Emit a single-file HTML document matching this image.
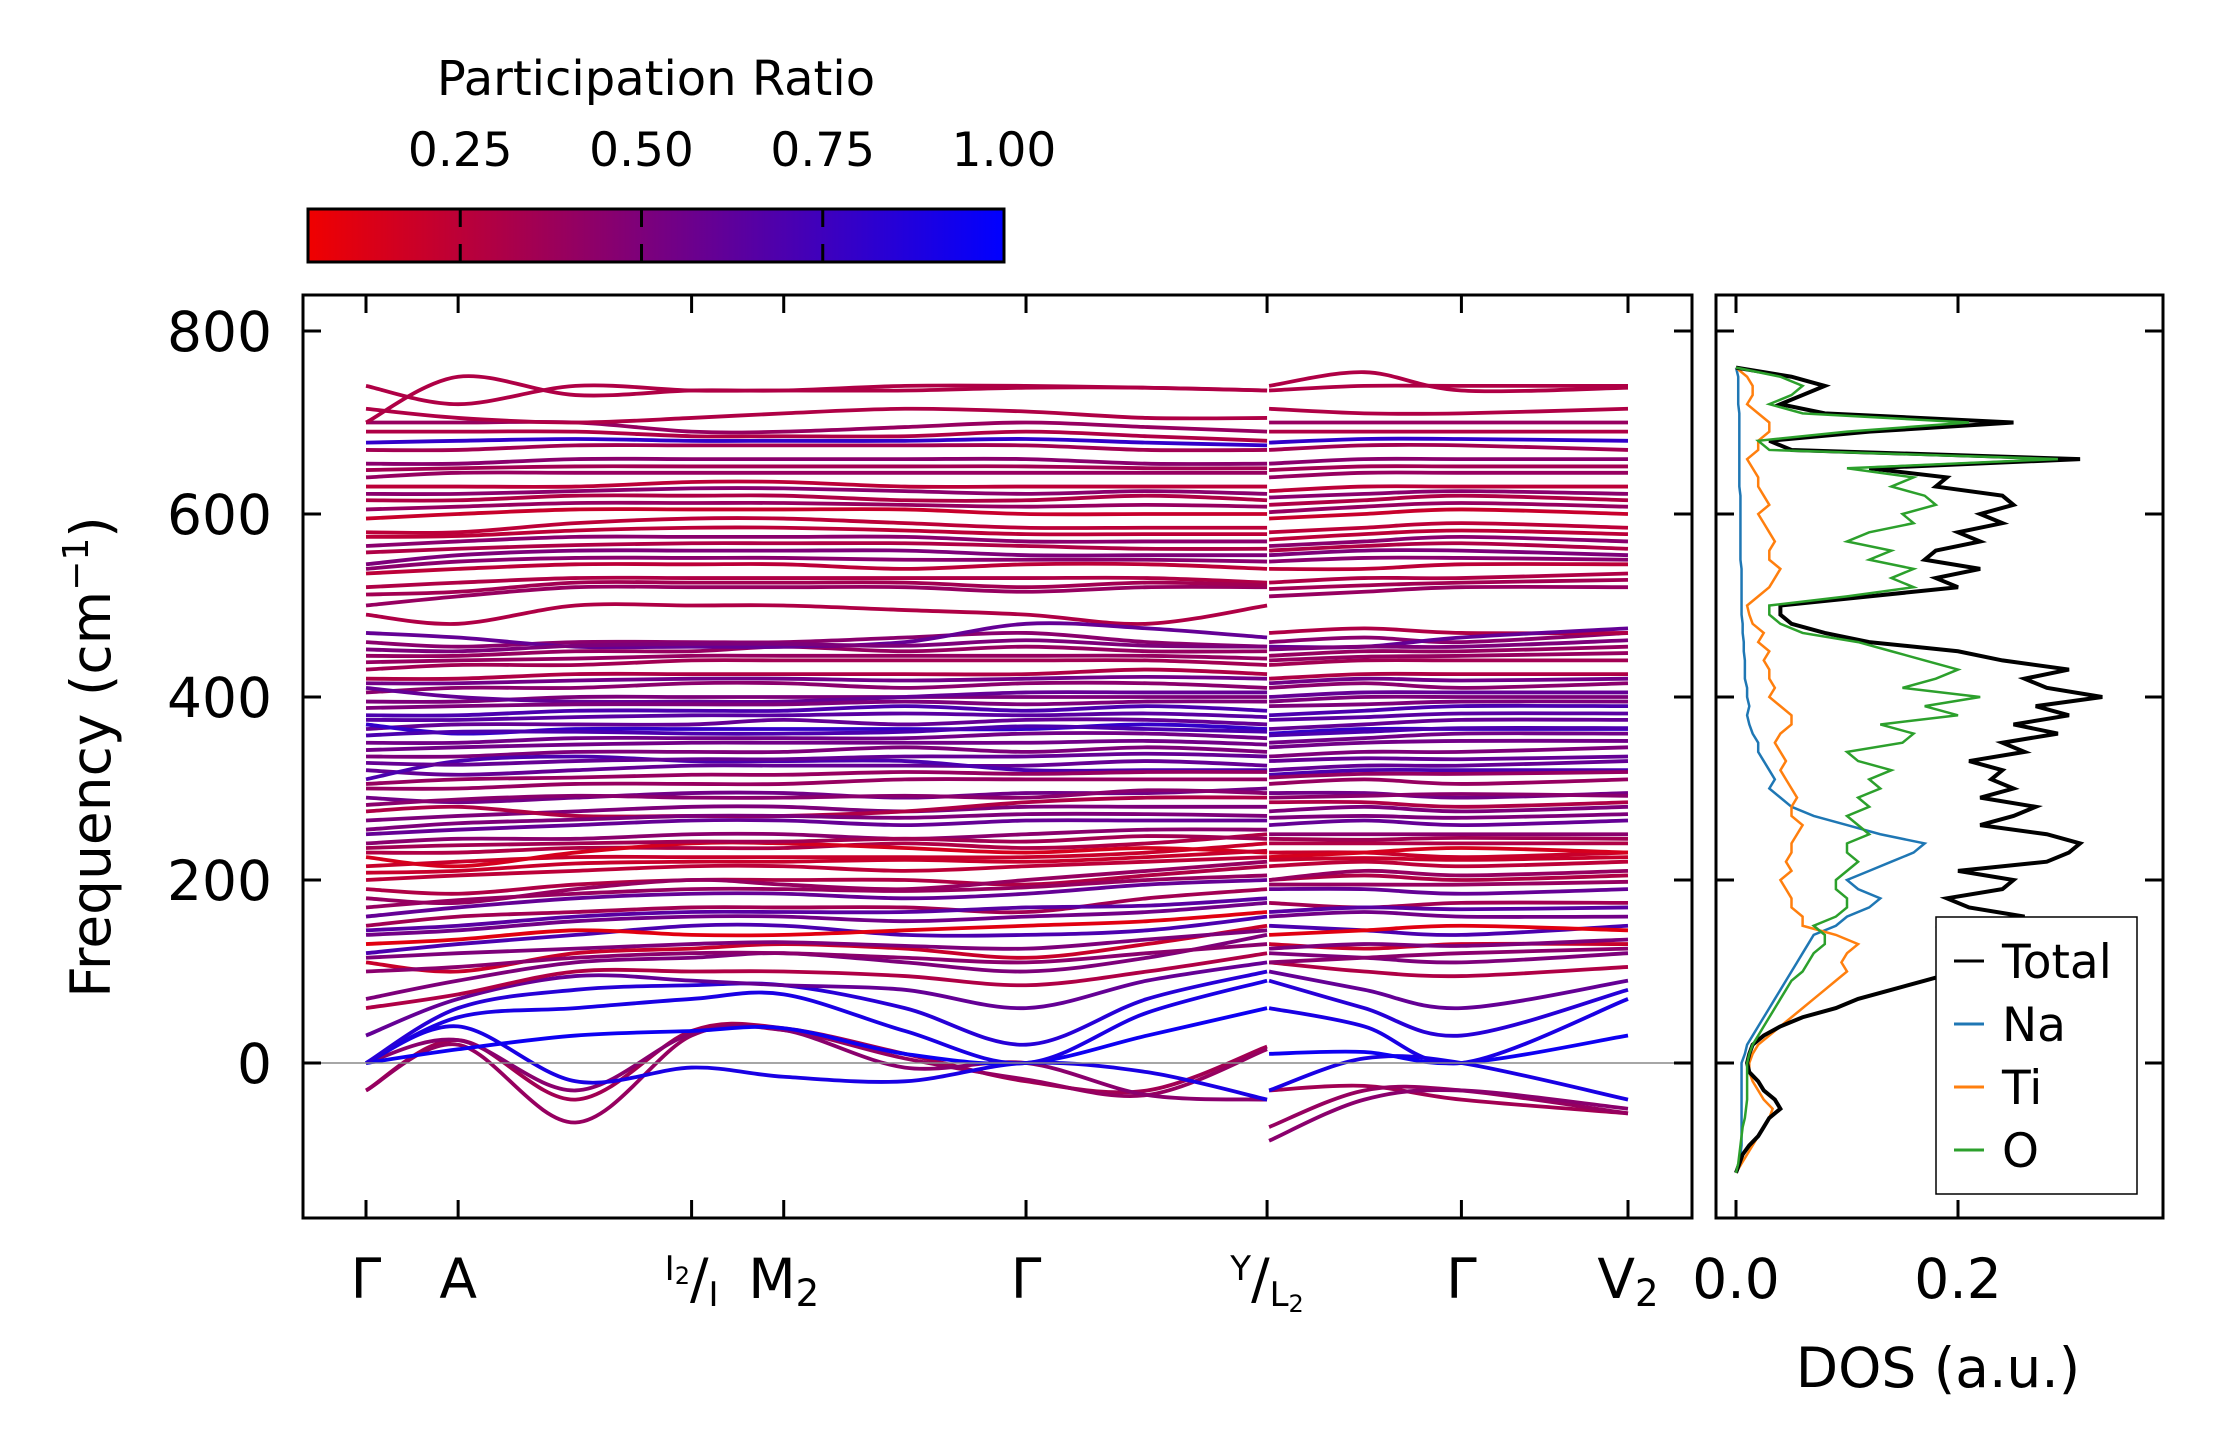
<!DOCTYPE html>
<html><head><meta charset="utf-8"><style>
html,body{margin:0;padding:0;background:#fff;}
svg{display:block;font-family:"DejaVu Sans","Liberation Sans",sans-serif;}
</style></head><body>
<svg id="fig" width="2222" height="1455" viewBox="0 0 2222 1455" xmlns="http://www.w3.org/2000/svg">
<defs>
<linearGradient id="cbg" x1="0" x2="1" y1="0" y2="0"><stop offset="0" stop-color="#f00000"/><stop offset="1" stop-color="#0000ff"/></linearGradient>
<clipPath id="mainclip"><rect x="303" y="295" width="1389" height="923"/></clipPath>
<clipPath id="dosclip"><rect x="1716" y="295" width="447" height="923"/></clipPath>
</defs>
<g id="colorbar">
<text x="656" y="95" font-size="48" text-anchor="middle">Participation Ratio</text>
<rect x="308" y="209" width="696" height="53" fill="url(#cbg)" stroke="#000" stroke-width="3"/>
</g>
<g id="bands" clip-path="url(#mainclip)"></g>
<line x1="303" x2="1692" y1="1063" y2="1063" stroke="#888" stroke-width="1.5"/>
<rect x="303" y="295" width="1389" height="923" fill="none" stroke="#000" stroke-width="3"/>
<g id="maxes"></g>
<g id="dos" clip-path="url(#dosclip)"></g>
<rect x="1716" y="295" width="447" height="923" fill="none" stroke="#000" stroke-width="3"/>
<g id="daxes"></g>
<text transform="translate(110,757) rotate(-90)" font-size="55" text-anchor="middle">Frequency (cm<tspan dy="-22" font-size="36">−1</tspan><tspan dy="22">)</tspan></text>
<text x="1938" y="1387" font-size="55" text-anchor="middle">DOS (a.u.)</text>
<g>
<rect x="1936" y="917" width="201" height="277" fill="#fff" stroke="#000" stroke-width="1.5"/>
<line x1="1954" x2="1984" y1="961" y2="961" stroke="#000" stroke-width="3"/><text x="2002" y="978" font-size="47">Total</text>
<line x1="1954" x2="1984" y1="1024" y2="1024" stroke="#1f77b4" stroke-width="3"/><text x="2002" y="1041" font-size="47">Na</text>
<line x1="1954" x2="1984" y1="1087" y2="1087" stroke="#ff7f0e" stroke-width="3"/><text x="2002" y="1104" font-size="47">Ti</text>
<line x1="1954" x2="1984" y1="1150" y2="1150" stroke="#2ca02c" stroke-width="3"/><text x="2002" y="1167" font-size="47">O</text>
</g>
</svg>
<script>
const yTicks=[0,200,400,600,800];
const cbTicks=[0.25,0.5,0.75,1.0];
const cbTickLabels=["0.25","0.50","0.75","1.00"];
const dosTicks=[0.0,0.2];
const dosTickLabels=["0.0","0.2"];
const kTicks=[0,0.073,0.258,0.331,0.523,0.714,0.868,1.0];
const kKnots=[0,0.073,0.166,0.258,0.331,0.427,0.523,0.619,0.714,0.714,0.791,0.868,1.0];
const bands=[
[-30,25,-40,35,38,10,-20,-30,18,-30,-25,-40,-55],
[-30,20,-65,30,36,5,-18,-35,15,-70,-30,-30,-55],
[0,25,-30,32,36,-5,0,-35,-40,-85,-40,-30,-50],
[0,40,-20,-5,-15,-20,0,-10,-40,-30,5,0,-40],
[0,15,30,35,38,10,0,30,60,10,12,0,30],
[0,50,60,70,75,35,0,55,90,60,40,0,70],
[0,60,80,85,85,60,20,70,100,90,60,30,80],
[30,70,95,90,85,80,60,90,110,100,80,60,90],
[60,75,100,100,100,95,85,100,120,110,100,95,105],
[70,90,110,115,120,110,100,115,140,120,115,110,120],
[110,100,120,125,130,125,115,130,150,130,125,130,130],
[120,130,140,150,150,140,140,145,160,150,145,140,150],
[140,145,155,160,160,155,160,165,175,160,165,160,160],
[150,160,165,170,170,170,165,180,190,175,170,175,175],
[160,170,180,185,185,180,185,195,200,190,190,185,190],
[190,185,195,200,200,200,195,205,215,200,205,200,205],
[200,205,210,215,215,210,215,220,225,215,220,215,220],
[215,220,225,225,225,225,225,230,240,230,230,225,230],
[230,230,235,235,235,240,235,240,250,240,240,240,240],
[240,245,245,250,250,245,250,255,255,250,250,250,250],
[250,255,260,265,265,260,265,265,265,260,265,260,265],
[265,270,275,280,280,275,280,280,280,275,280,275,280],
[290,285,290,295,295,290,295,295,300,295,295,290,295],
[300,300,305,305,305,310,310,310,310,305,310,305,310],
[320,315,320,325,325,325,325,330,325,320,325,325,330],
[335,335,340,340,340,345,340,345,340,335,340,340,345],
[350,350,355,355,355,355,360,360,355,350,355,360,360],
[365,370,370,370,375,370,375,375,370,365,370,375,375],
[380,380,385,385,385,390,385,390,385,380,385,390,390],
[395,395,400,400,400,400,400,400,400,395,400,400,400],
[405,410,410,415,415,410,415,415,410,410,415,410,415],
[420,420,425,425,425,425,425,430,425,420,425,425,425],
[430,435,435,440,440,440,440,440,435,435,440,440,440],
[445,445,450,450,455,450,455,450,450,445,450,450,455],
[460,455,460,460,460,465,470,460,455,460,465,460,470],
[490,480,500,500,500,495,490,480,500,470,475,470,470],
[500,510,520,520,520,520,515,520,520,510,515,520,520],
[520,525,530,530,530,530,530,530,525,525,530,530,535],
[535,540,545,545,545,540,545,545,540,540,540,545,545],
[545,555,560,560,560,560,555,555,555,555,560,560,555],
[565,570,575,575,575,575,570,570,570,565,570,575,570],
[580,580,590,595,595,590,585,585,585,580,585,590,585],
[595,600,605,605,605,605,600,600,600,595,600,605,600],
[615,615,620,620,620,615,615,620,615,610,615,620,615],
[630,630,630,635,635,630,630,630,630,625,630,630,630],
[640,645,645,645,645,645,645,645,645,640,645,645,645],
[655,655,660,660,660,660,660,655,655,655,660,660,660],
[670,670,675,675,675,675,675,670,670,670,675,675,670],
[690,690,690,685,685,685,690,685,680,690,690,690,690],
[700,700,700,690,690,695,700,695,690,700,700,700,700],
[715,705,700,705,710,715,712,705,705,715,710,710,715],
[740,720,740,735,735,735,738,738,735,735,740,740,740],
[700,750,730,735,735,740,740,738,735,740,755,735,738],
[225,215,230,240,240,235,230,235,230,225,230,235,230],
[180,175,190,200,195,190,200,210,220,200,210,205,210],
[130,135,145,140,140,145,150,155,165,140,145,150,145],
[100,105,115,120,120,115,110,120,130,110,115,120,125],
[275,280,270,270,270,275,285,290,290,285,285,280,285],
[310,330,335,330,330,330,320,320,320,315,320,320,320],
[370,360,365,365,365,365,365,370,365,360,365,365,365],
[410,400,395,395,395,400,405,405,405,400,405,405,405],
[470,465,455,455,455,460,480,475,465,455,455,465,475],
[115,120,125,130,132,128,125,135,145,125,130,128,135],
[145,150,160,165,165,165,170,172,180,165,170,168,170],
[170,178,185,190,190,188,192,200,205,195,195,195,198],
[208,210,218,220,220,222,220,225,232,222,224,222,225],
[235,238,240,242,242,245,242,248,245,245,244,246,245],
[255,262,266,270,270,268,272,272,270,268,270,268,272],
[282,288,292,290,290,292,290,298,295,290,292,294,292],
[305,310,312,315,315,318,316,318,318,312,316,316,318],
[328,326,330,332,332,335,335,338,335,330,333,332,335],
[342,345,348,350,350,350,350,352,348,345,350,352,352],
[358,362,362,360,360,362,368,365,362,358,362,366,366],
[375,375,378,380,380,382,380,382,378,375,378,382,382],
[388,390,392,392,392,395,392,395,395,390,392,395,395],
[415,415,418,420,420,418,420,422,420,415,420,418,420],
[438,440,442,445,445,445,445,445,442,440,444,445,448],
[452,450,456,458,458,456,462,456,455,452,455,455,462],
[512,515,525,525,525,525,520,525,522,518,522,525,528],
[540,548,552,552,552,550,550,550,548,548,552,552,550],
[558,562,566,568,568,568,565,562,562,560,565,568,562],
[575,576,582,585,585,582,578,578,578,572,578,582,578],
[605,608,612,612,612,610,608,610,608,602,608,612,608],
[622,622,625,628,628,625,622,625,622,618,622,625,622],
[648,650,652,652,652,652,652,650,650,648,652,652,652],
[678,680,682,680,680,680,682,678,675,678,682,682,680],
[25,45,55,60,62,40,10,45,80,35,28,15,55]
];
const bandRatio=[0.35,0.4,0.45,0.9,0.95,0.9,0.85,0.6,0.3,0.5,0.2,0.7,0.55,0.35,0.6,0.3,0.25,0.2,0.3,0.45,0.6,0.5,0.55,0.4,0.6,0.5,0.55,0.6,0.7,0.5,0.45,0.3,0.35,0.4,0.45,0.3,0.4,0.3,0.25,0.5,0.45,0.25,0.2,0.3,0.25,0.4,0.45,0.35,0.3,0.4,0.3,0.3,0.3,0.15,0.4,0.1,0.45,0.3,0.7,0.8,0.6,0.6,
0.5,0.65,0.4,0.2,0.35,0.5,0.45,0.4,0.6,0.55,0.7,0.65,0.5,0.55,0.4,0.5,0.35,0.45,0.3,0.25,0.4,0.45,0.35,0.8];
const dosFreq=[-120,-110,-100,-90,-80,-70,-60,-50,-40,-30,-20,-10,0,10,20,30,40,50,60,70,80,90,100,110,120,130,140,150,160,170,180,190,200,210,220,230,240,250,260,270,280,290,300,310,320,330,340,350,360,370,380,390,400,410,420,430,440,450,460,470,480,490,500,510,520,530,540,550,560,570,580,590,600,610,620,630,640,650,660,670,680,690,700,710,720,730,740,750,760];
const dosTotal=[0,0.003,0.006,0.012,0.02,0.025,0.03,0.04,0.035,0.025,0.02,0.012,0.01,0.012,0.015,0.025,0.04,0.06,0.09,0.11,0.14,0.17,0.2,0.23,0.24,0.21,0.22,0.18,0.26,0.21,0.19,0.24,0.25,0.2,0.28,0.3,0.31,0.28,0.22,0.25,0.27,0.22,0.25,0.23,0.24,0.21,0.26,0.24,0.29,0.25,0.3,0.27,0.33,0.28,0.26,0.3,0.24,0.2,0.12,0.08,0.05,0.04,0.04,0.12,0.2,0.18,0.22,0.17,0.18,0.22,0.2,0.24,0.22,0.25,0.24,0.18,0.19,0.12,0.31,0.05,0.03,0.12,0.25,0.08,0.04,0.06,0.08,0.05,0];
const dosO=[0,0.002,0.003,0.004,0.005,0.006,0.008,0.009,0.01,0.01,0.01,0.01,0.01,0.012,0.015,0.02,0.025,0.03,0.035,0.04,0.045,0.05,0.06,0.065,0.07,0.08,0.08,0.07,0.09,0.1,0.1,0.09,0.09,0.1,0.11,0.1,0.1,0.12,0.11,0.1,0.12,0.11,0.13,0.12,0.14,0.11,0.1,0.15,0.16,0.13,0.2,0.17,0.22,0.15,0.18,0.2,0.17,0.14,0.11,0.06,0.04,0.03,0.03,0.1,0.16,0.14,0.16,0.12,0.14,0.1,0.12,0.16,0.15,0.18,0.17,0.14,0.16,0.1,0.29,0.03,0.02,0.1,0.21,0.06,0.03,0.05,0.06,0.04,0];
const dosNa=[0,0.003,0.004,0.005,0.005,0.005,0.005,0.005,0.005,0.005,0.005,0.005,0.005,0.008,0.01,0.015,0.02,0.025,0.03,0.035,0.04,0.045,0.05,0.055,0.06,0.065,0.07,0.09,0.1,0.12,0.13,0.11,0.1,0.12,0.14,0.16,0.17,0.13,0.1,0.07,0.05,0.04,0.03,0.035,0.03,0.025,0.02,0.02,0.015,0.012,0.01,0.012,0.01,0.01,0.008,0.008,0.008,0.007,0.007,0.006,0.006,0.005,0.005,0.005,0.005,0.005,0.005,0.004,0.004,0.004,0.004,0.004,0.004,0.004,0.004,0.003,0.003,0.003,0.003,0.003,0.003,0.003,0.003,0.003,0.002,0.002,0.002,0.002,0];
const dosTi=[0,0.005,0.01,0.015,0.02,0.025,0.03,0.033,0.025,0.02,0.015,0.012,0.012,0.015,0.02,0.03,0.04,0.05,0.06,0.07,0.08,0.09,0.1,0.095,0.1,0.11,0.09,0.06,0.06,0.05,0.05,0.045,0.04,0.05,0.045,0.05,0.05,0.055,0.06,0.05,0.05,0.055,0.05,0.045,0.04,0.045,0.04,0.035,0.04,0.05,0.05,0.04,0.03,0.035,0.03,0.03,0.025,0.03,0.02,0.025,0.015,0.012,0.01,0.02,0.03,0.035,0.04,0.03,0.03,0.035,0.03,0.025,0.02,0.03,0.025,0.02,0.02,0.015,0.01,0.02,0.02,0.03,0.03,0.02,0.01,0.015,0.015,0.01,0];

const NS="http://www.w3.org/2000/svg";
const yS=v=>1063-v*(1063-331)/800;
const xS=k=>366+k*1262;
const dS=v=>1736+v*1110;
const cS=p=>308+(p-0.04)/(0.96)*696;
function mk(tag,attrs,parent){const e=document.createElementNS(NS,tag);for(const a in attrs)e.setAttribute(a,attrs[a]);parent.appendChild(e);return e;}
function col(p){const t=Math.max(0,Math.min(1,(p-0.04)/0.96));return `rgb(${Math.round(240*(1-t))},0,${Math.round(255*t)})`;}
function smooth(pts){let d=`M${pts[0][0]},${pts[0][1]}`;for(let i=0;i<pts.length-1;i++){const p0=pts[i-1]||pts[i],p1=pts[i],p2=pts[i+1],p3=pts[i+2]||p2;const c1=[p1[0]+(p2[0]-p0[0])/6,p1[1]+(p2[1]-p0[1])/6],c2=[p2[0]-(p3[0]-p1[0])/6,p2[1]-(p3[1]-p1[1])/6];d+=`C${c1[0]},${c1[1]} ${c2[0]},${c2[1]} ${p2[0]},${p2[1]}`;}return d;}
const gb=document.getElementById('bands');
bands.forEach((b,i)=>{
  const segs=[[0,8],[9,12]];
  segs.forEach(([s,e],j)=>{
    const pts=[];for(let k=s;k<=e;k++)pts.push([xS(kKnots[k])+(j===1&&k===9?2:0),yS(b[k])]);
    const p=mk('path',{d:smooth(pts),fill:'none',stroke:col(bandRatio[i]),'stroke-width':3.8},gb);
    
    
  });
});
const ma=document.getElementById('maxes');
yTicks.forEach(v=>{
  const y=yS(v);
  mk('line',{x1:303,x2:321,y1:y,y2:y,stroke:'#000','stroke-width':3},ma);
  mk('line',{x1:1674,x2:1692,y1:y,y2:y,stroke:'#000','stroke-width':3},ma);
  mk('line',{x1:1716,x2:1734,y1:y,y2:y,stroke:'#000','stroke-width':3},ma);
  mk('line',{x1:2145,x2:2163,y1:y,y2:y,stroke:'#000','stroke-width':3},ma);
  const t=mk('text',{x:272,y:y+20,'font-size':55,'text-anchor':'end'},ma);t.textContent=v;
  
  
});
kTicks.forEach(k=>{const x=xS(k);
  mk('line',{x1:x,x2:x,y1:1218,y2:1200,stroke:'#000','stroke-width':3},ma);
  mk('line',{x1:x,x2:x,y1:295,y2:313,stroke:'#000','stroke-width':3},ma);});
const lbl=[["Γ",0],["A",1],["M",3,"2"],["Γ",4],["Γ",6],["V",7,"2"]];
lbl.forEach(l=>{const t=mk('text',{x:xS(kTicks[l[1]]),y:1298,'font-size':55,'text-anchor':'middle'},ma);
  
  
  t.textContent=l[0];if(l[2]){const s=mk('tspan',{'font-size':37,dy:8},t);s.textContent=l[2];}});
function frac(k,a,b,sub){const x=xS(k);const t=mk('text',{x:x,y:1298,'font-size':55,'text-anchor':'middle'},ma);
  
  
  const s1=mk('tspan',{'font-size':34,dy:-18},t);s1.textContent=a;
  if(sub[0]){const q=mk('tspan',{'font-size':24,dy:4},t);q.textContent=sub[0];}
  const s2=mk('tspan',{dy:sub[0]?14:18},t);s2.textContent="/";
  const s3=mk('tspan',{'font-size':34,dy:8},t);s3.textContent=b;
  if(sub[1]){const q=mk('tspan',{'font-size':24,dy:6},t);q.textContent=sub[1];}}
frac(kTicks[2],"I","I",["2",""]);
frac(kTicks[5],"Y","L",["","2"]);
const gd=document.getElementById('dos');
[[dosNa,'#1f77b4',2.5,'dos-na'],[dosTi,'#ff7f0e',2.5,'dos-ti'],[dosTotal,'#000',4,'dos-total'],[dosO,'#2ca02c',2.5,'dos-o']].forEach(s=>{
  const d=dosFreq.map((f,i)=>(i?'L':'M')+dS(s[0][i])+','+yS(f)).join('');
  const p=mk('path',{d:d,fill:'none',stroke:s[1],'stroke-width':s[2]},gd);
  
  
});
const da=document.getElementById('daxes');
dosTicks.forEach((v,i)=>{const x=dS(v);
  mk('line',{x1:x,x2:x,y1:1218,y2:1200,stroke:'#000','stroke-width':3},da);
  mk('line',{x1:x,x2:x,y1:295,y2:313,stroke:'#000','stroke-width':3},da);
  const t=mk('text',{x:x,y:1298,'font-size':55,'text-anchor':'middle'},da);t.textContent=dosTickLabels[i];
  
  });
const cb=document.getElementById('colorbar');
cbTicks.forEach((v,i)=>{const x=cS(v);
  if(v<1){mk('line',{x1:x,x2:x,y1:209,y2:227,stroke:'#000','stroke-width':3},cb);
  mk('line',{x1:x,x2:x,y1:244,y2:262,stroke:'#000','stroke-width':3},cb);}
  const t=mk('text',{x:x,y:166,'font-size':47,'text-anchor':'middle'},cb);t.textContent=cbTickLabels[i];
  
  });
</script>
</body></html>
